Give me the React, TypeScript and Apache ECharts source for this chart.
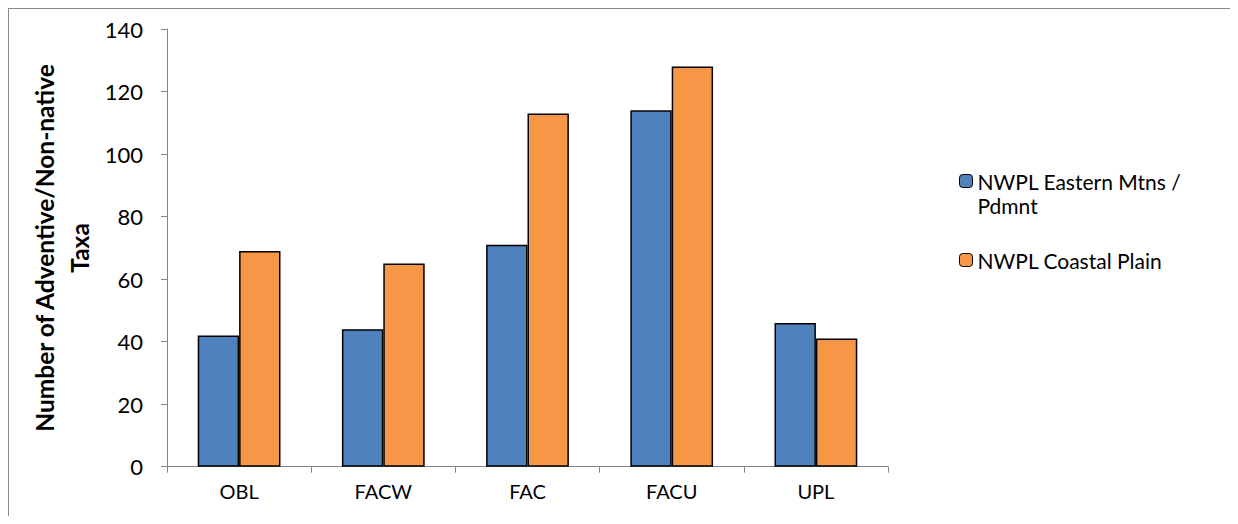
import React, { useEffect, useRef } from "react";
import * as echarts from "echarts";

const categories = ["OBL", "FACW", "FAC", "FACU", "UPL"];
const easternMtns = [42, 44, 71, 114, 46];
const coastalPlain = [69, 65, 113, 128, 41];
const seriesNames = ["NWPL Eastern Mtns / Pdmnt", "NWPL Coastal Plain"];
const legendLabels = ["\nNWPL Eastern Mtns /\nPdmnt", "NWPL Coastal Plain"];
const yTitleLines = ["Number of Adventive/Non-native", "Taxa"];

const FONT = "Lato, 'Liberation Sans', sans-serif";

export default function App() {
  const ref = useRef<HTMLDivElement>(null);
  useEffect(() => {
    if (!ref.current) return;
    const chart = echarts.init(ref.current, undefined, { renderer: "svg" });
    chart.setOption({
      animation: false,
      textStyle: { fontFamily: FONT },
      grid: { left: 159, right: 342, top: 21, bottom: 49.3, containLabel: false },
      legend: {
        orient: "vertical",
        left: 951,
        top: 137,
        padding: 0,
        itemWidth: 13,
        itemHeight: 13,
        itemGap: 31,
        itemStyle: { borderColor: "#000", borderWidth: 1 },
        textStyle: { fontSize: 21, color: "#000", fontFamily: FONT, lineHeight: 24 },
        data: [{ name: seriesNames[0] }, { name: seriesNames[1] }],
        formatter: (n: string) => legendLabels[seriesNames.indexOf(n)],
      },
      xAxis: {
        type: "category",
        data: categories,
        axisLine: { lineStyle: { color: "#868686", width: 1 } },
        axisTick: { show: true, length: 6, lineStyle: { color: "#868686" } },
        axisLabel: { color: "#000", fontSize: 20, margin: 14, fontFamily: FONT },
      },
      yAxis: {
        type: "value",
        min: 0,
        max: 140,
        interval: 20,
        splitLine: { show: false },
        axisLine: { show: true, lineStyle: { color: "#868686", width: 1 } },
        axisTick: { show: true, length: 6, lineStyle: { color: "#868686" } },
        axisLabel: { color: "#000", fontSize: 22, margin: 24, fontFamily: FONT },
      },
      series: [
        {
          name: seriesNames[0],
          type: "bar",
          data: easternMtns,
          barGap: "0%",
          barCategoryGap: "42.6%",
          itemStyle: { color: "#4F81BD", borderColor: "#000", borderWidth: 1.5 },
        },
        {
          name: seriesNames[1],
          type: "bar",
          data: coastalPlain,
          barGap: "0%",
          barCategoryGap: "42.6%",
          itemStyle: { color: "#F79646", borderColor: "#000", borderWidth: 1.5 },
        },
      ],
      graphic: [
        {
          type: "line",
          shape: { x1: 0.5, y1: 0, x2: 0.5, y2: 508 },
          style: { stroke: "#8a8a8a", lineWidth: 1 },
          silent: true,
        },
        {
          type: "line",
          shape: { x1: 0, y1: 0.5, x2: 1222, y2: 0.5 },
          style: { stroke: "#8a8a8a", lineWidth: 1 },
          silent: true,
        },
        {
          type: "text",
          x: 36,
          y: 240,
          rotation: Math.PI / 2,
          style: {
            text: yTitleLines[0],
            fontSize: 24.5,
            fontWeight: "bold",
            fontFamily: FONT,
            fill: "#000",
            align: "center",
            verticalAlign: "middle",
          },
        },
        {
          type: "text",
          x: 71,
          y: 240,
          rotation: Math.PI / 2,
          style: {
            text: yTitleLines[1],
            fontSize: 24.5,
            fontWeight: "bold",
            fontFamily: FONT,
            fill: "#000",
            align: "center",
            verticalAlign: "middle",
          },
        },
      ],
    });
    return () => chart.dispose();
  }, []);
  return <div ref={ref} style={{ width: 1222, height: 508 }} />;
}
